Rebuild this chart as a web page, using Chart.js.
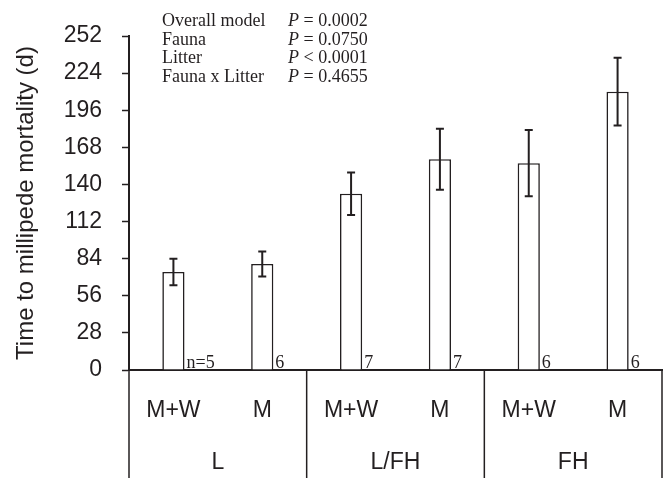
<!DOCTYPE html>
<html lang="en">
<head>
  <meta charset="UTF-8" />
  <title>Time to millipede mortality</title>
  <script src="https://cdn.jsdelivr.net/npm/chart.js"></script>
  <style>
    html, body { margin: 0; padding: 0; background: #fff; }
    #wrap { width: 665px; height: 478px; }
  </style>
</head>
<body>
  <div id="wrap"><canvas id="myChart" width="665" height="478"></canvas></div>

  <script>
    // data
    const categories = ['M+W', 'M', 'M+W', 'M', 'M+W', 'M'];
    const groups = ['L', 'L/FH', 'FH'];
    const means = [74, 80, 133, 159, 156, 210];
    const errors = [10, 9.5, 16, 23, 25, 25.5];
    const nLabels = ['n=5', '6', '7', '7', '6', '6'];
    const yTicks = [0, 28, 56, 84, 112, 140, 168, 196, 224, 252];
    const statNames = ['Overall model', 'Fauna', 'Litter', 'Fauna x Litter'];
    const statOps = [' = 0.0002', ' = 0.0750', ' < 0.0001', ' = 0.4655'];

    const ink = '#231f20';
    const sans = 'Arial, "Liberation Sans", sans-serif';
    const serif = '"Times New Roman", "Liberation Serif", serif';

    // error bars + n labels next to the bars
    const errorBars = {
      id: 'errorBars',
      afterDatasetsDraw(chart) {
        const { ctx, scales: { x, y } } = chart;
        const meta = chart.getDatasetMeta(0);
        ctx.save();
        ctx.strokeStyle = ink;
        ctx.lineWidth = 2;
        means.forEach((m, i) => {
          const cx = x.getPixelForValue(i);
          const top = y.getPixelForValue(m + errors[i]);
          const bot = y.getPixelForValue(m - errors[i]);
          ctx.beginPath();
          ctx.moveTo(cx, top); ctx.lineTo(cx, bot);
          ctx.moveTo(cx - 4, top); ctx.lineTo(cx + 4, top);
          ctx.moveTo(cx - 4, bot); ctx.lineTo(cx + 4, bot);
          ctx.stroke();
        });
        ctx.fillStyle = ink;
        ctx.font = '18px ' + serif;
        ctx.textBaseline = 'alphabetic';
        ctx.textAlign = 'left';
        meta.data.forEach((bar, i) => {
          ctx.fillText(nLabels[i], bar.x + bar.width / 2 + 2, y.getPixelForValue(0) - 2);
        });
        ctx.restore();
      }
    };

    // group labels and separators under the x axis, stats text at the top
    const extras = {
      id: 'extras',
      afterDraw(chart) {
        const { ctx, scales: { x, y } } = chart;
        const base = y.getPixelForValue(0);
        ctx.save();
        ctx.strokeStyle = ink;
        ctx.lineWidth = 1.5;
        const per = categories.length / groups.length;
        const edges = [x.left];
        for (let g = 1; g < groups.length; g++) {
          edges.push((x.getPixelForValue(g * per - 1) + x.getPixelForValue(g * per)) / 2);
        }
        edges.push(x.right);
        edges.forEach(px => {
          ctx.beginPath();
          ctx.moveTo(px, base);
          ctx.lineTo(px, chart.height);
          ctx.stroke();
        });
        ctx.fillStyle = ink;
        ctx.font = '23px ' + sans;
        ctx.textAlign = 'center';
        ctx.textBaseline = 'middle';
        groups.forEach((g, i) => {
          ctx.fillText(g, (edges[i] + edges[i + 1]) / 2, base + 93);
        });

        ctx.textAlign = 'left';
        ctx.textBaseline = 'alphabetic';
        statNames.forEach((s, i) => {
          const by = 26 + i * 18.7;
          ctx.font = '18px ' + serif;
          ctx.fillText(s, 162, by);
          ctx.font = 'italic 18px ' + serif;
          ctx.fillText('P', 288, by);
          const w = ctx.measureText('P').width;
          ctx.font = '18px ' + serif;
          ctx.fillText(statOps[i], 288 + w, by);
        });
        ctx.restore();
      }
    };

    const ctx = document.getElementById('myChart').getContext('2d');
    const myChart = new Chart(ctx, {
      type: 'bar',
      data: {
        labels: categories,
        datasets: [{
          data: means,
          backgroundColor: '#fff',
          borderColor: ink,
          borderWidth: 1.6,
          barPercentage: 0.25,
          categoryPercentage: 1.0
        }]
      },
      options: {
        responsive: false,
        animation: false,
        layout: { padding: { top: 36, right: 3, left: 0, bottom: 0 } },
        plugins: {
          legend: { display: false },
          tooltip: { enabled: false }
        },
        scales: {
          x: {
            afterFit: s => { s.height = 108; },
            grid: { display: false, drawTicks: false },
            border: { color: ink, width: 2 },
            ticks: {
              color: ink,
              font: { family: sans, size: 23 },
              padding: 27,
              maxRotation: 0
            }
          },
          y: {
            min: 0,
            max: 252,
            afterFit: s => { s.width = 129; },
            afterBuildTicks: s => { s.ticks = yTicks.map(v => ({ value: v })); },
            grid: { drawOnChartArea: false, tickLength: 7, color: ink, tickWidth: 1.5 },
            border: { color: ink, width: 2 },
            title: {
              display: true,
              text: 'Time to millipede mortality (d)',
              color: ink,
              font: { family: sans, size: 24 },
              padding: { top: 12, bottom: 0 }
            },
            ticks: {
              color: ink,
              font: { family: sans, size: 23 },
              padding: 20
            }
          }
        }
      },
      plugins: [errorBars, extras]
    });
  </script>
</body>
</html>
